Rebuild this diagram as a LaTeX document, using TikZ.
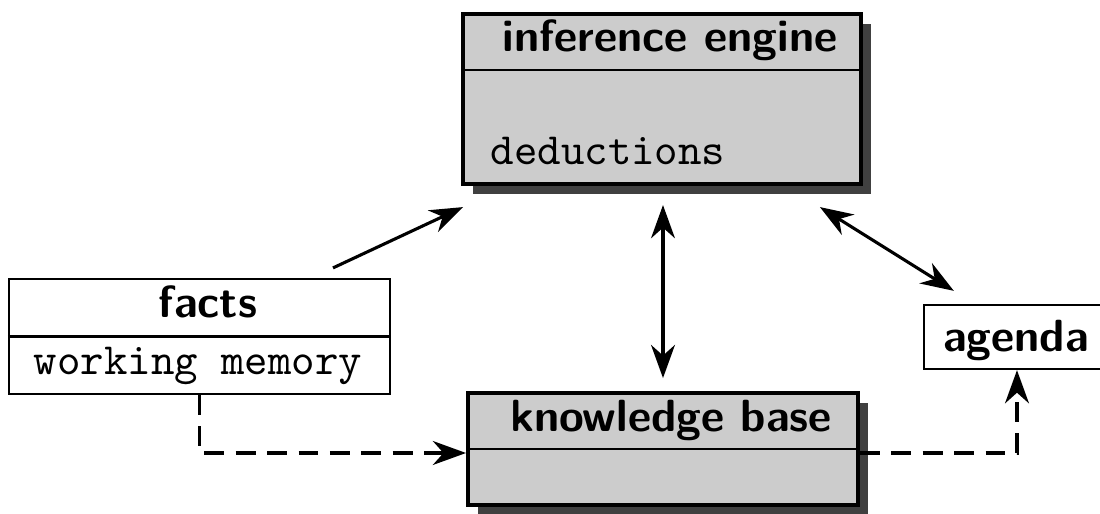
\documentclass[tikz,border=0pt]{standalone}
\usetikzlibrary{arrows.meta,shadows,calc}
\begin{document}
\begin{tikzpicture}[
  x=0.2262pt, y=-0.2262pt,
  >={Stealth[length=7.5pt,width=5.4pt,inset=2.4pt]},
  shadedbox/.style={draw, line width=0.9pt, fill=black!20, inner sep=0pt,
    drop shadow={shadow xshift=2.2pt, shadow yshift=-2.2pt, fill=black!75, opacity=1}},
  plainbox/.style={draw, line width=0.5pt, fill=white, inner sep=0pt},
  divider/.style={line width=0.5pt},
  head/.style={font=\fontsize{10.2}{12}\sffamily\bfseries, anchor=base, inner sep=0pt},
  mono/.style={font=\fontsize{10.1}{12}\ttfamily, anchor=base, inner sep=0pt},
  link/.style={line width=0.7pt},
  dashlink/.style={line width=0.8pt, dash pattern=on 4.5pt off 2.6pt}
]
\useasboundingbox (0,0) rectangle (1100,514);
\clip (0,0) rectangle (1100,514);

% inference engine
\node[shadedbox, minimum width=90pt, minimum height=38.5pt] (ie) at (662,99) {};
\coordinate (iecut) at (662,70);
\draw[divider] (ie.west |- iecut) -- (ie.east |- iecut);
\node[head] (ietitle) at (670,52) {inference engine};
\node[mono, anchor=base west] (ieitem) at (490,165) {deductions};

% knowledge base
\node[shadedbox, minimum width=88.2pt, minimum height=25.3pt] (kb) at (663,449) {};
\draw[divider] (kb.west) -- (kb.east);
\node[head] (kbtitle) at (671,432) {knowledge base};

% facts
\node[plainbox, minimum width=86.2pt, minimum height=26pt] (facts) at (199.5,336.5) {};
\draw[divider] (facts.west) -- (facts.east);
\node[head] (factstitle) at (208,318) {facts};
\node[mono] (factsitem) at (198,375) {working memory};

% agenda
\node[plainbox, minimum width=42.1pt, minimum height=14.5pt] (agenda) at (1017,337) {};
\node[head] (agendatitle) at (1016,352) {agenda};

% connectors
\draw[link,->] ([shift={(133.5,-10)}]facts.north) -- ([shift={(2,21)}]ie.south west);
\draw[link,<->] ([shift={(1,19)}]ie.south) -- ([shift={(0,-13)}]kb.north);
\draw[link,<->] ([shift={(-43,21)}]ie.south east) -- ([shift={(31,-13)}]agenda.north west);
\draw[dashlink,->] (facts.south) |- ([shift={(0,4)}]kb.west);
\draw[dashlink,->] ([shift={(0,4)}]kb.east) -| (agenda.south);
\end{tikzpicture}
\end{document}
